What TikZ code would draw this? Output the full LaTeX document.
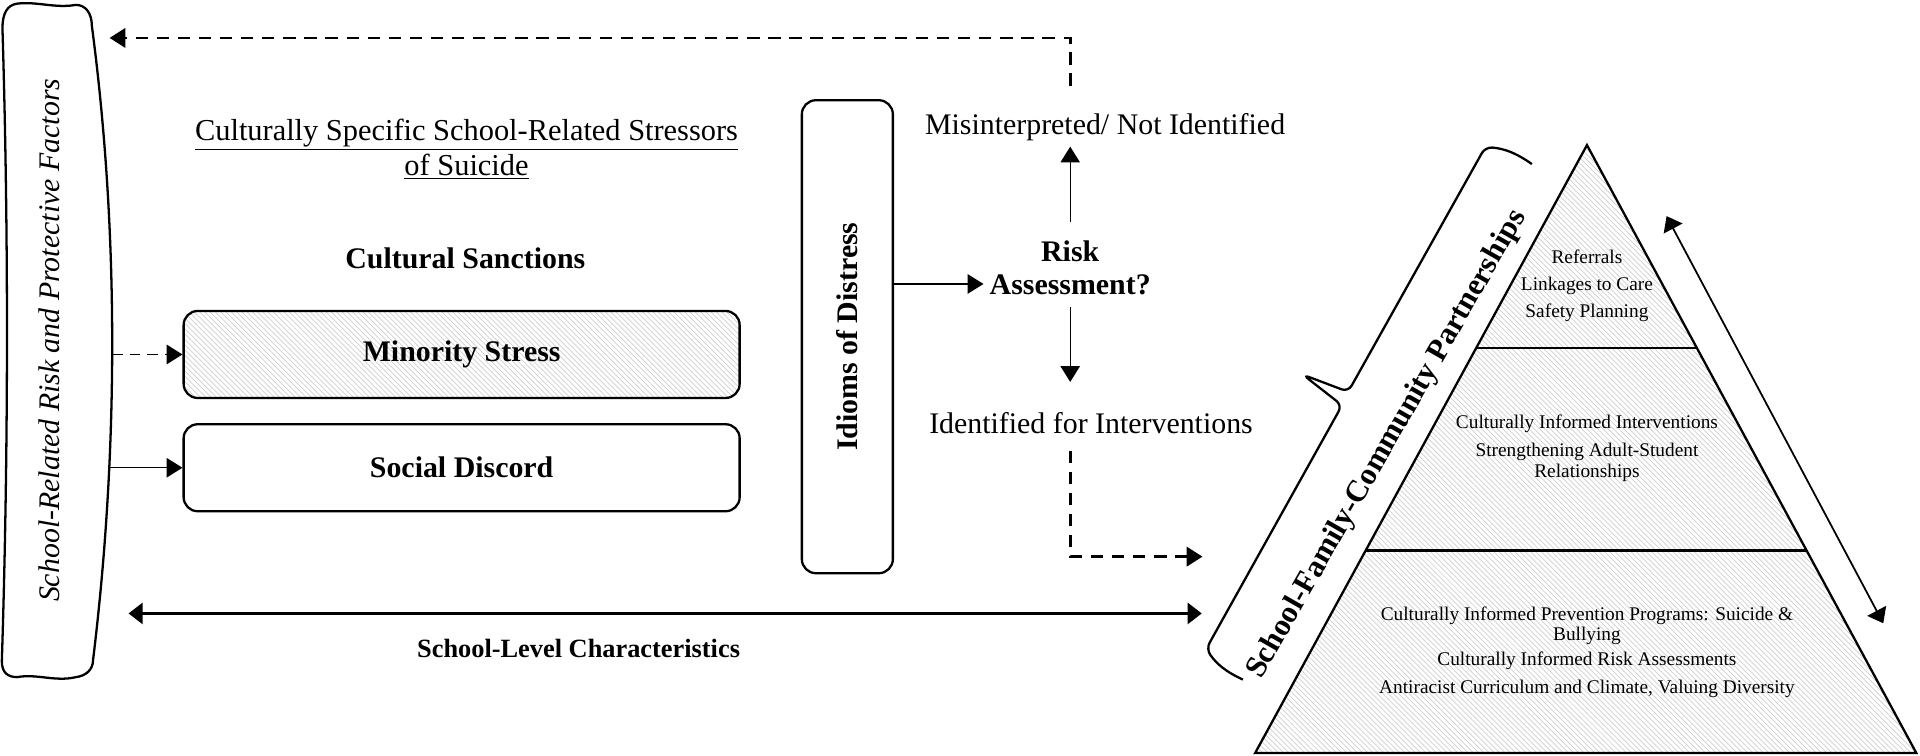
\documentclass[tikz,border=0pt]{standalone}
\usepackage{fontspec}
\setmainfont{Liberation Serif}
\usepackage{tikz}
\usetikzlibrary{positioning, calc, arrows.meta, patterns}
\tikzset{
    %Define style for boxes
    stressbox/.style={
           rectangle,
           rounded corners=8pt,
           draw=black, line width=1.3pt,
           minimum width=11.12cm,
           minimum height=1.74cm,
           font=\bfseries\fontsize{17}{20}\selectfont,
           text centered},
 %
    hatched/.style={
           pattern=north west lines,
           pattern color=gray!38},
 %
    plainlabel/.style={
           font=\fontsize{17}{20}\selectfont,
           align=center},
 %
    boldlabel/.style={
           font=\bfseries\fontsize{17}{19}\selectfont,
           align=center},
 %
    tiertext/.style={
           font=\fontsize{11}{11.5}\selectfont,
           align=center},
%
    % Define arrow style
    arrow/.style={
           -{Triangle[length=9pt,width=11pt]},
           line width=0.8pt},
    dasharrow/.style={
           arrow,
           line width=1.6pt,
           dash pattern=on 7pt off 5pt},
    dblarrow/.style={
           {Triangle[length=8pt,width=12pt]}-{Triangle[length=8pt,width=12pt]},
           line width=1.4pt}
}

\begin{document}
\begin{tikzpicture}[x=0.02449cm, y=0.02449cm]
  \useasboundingbox (0,0) rectangle (1568,617);
  % left banner
  \draw[line width=1.3pt] (2,594) .. controls (7,430) and (7,250) .. (1.5,77)
     .. controls (1.5,68) and (6,64) .. (14,64)
     .. controls (30,67) and (45,60) .. (62,64)
     .. controls (70,65) and (76,70) .. (76,78)
     .. controls (97,250) and (97,430) .. (75,596)
     .. controls (75,606) and (70,613) .. (62,613)
     .. controls (45,610) and (30,616) .. (14,614)
     .. controls (6,613) and (2,606) .. (2,594) -- cycle;
  \node[font=\itshape\fontsize{17}{20}\selectfont, rotate=90] (factors) at (40,339) {School-Related Risk and Protective Factors};
  \coordinate (factorsTop) at (89.5,586);
  \coordinate (factorsA) at (91.5,327.5);
  \coordinate (factorsB) at (89.5,235);
  \coordinate (factorsC) at (105,116);

  % stressors
  \node[plainlabel, font=\fontsize{17.3}{20.2}\selectfont] (heading) at (381,495)
     {\underline{Culturally Specific School-Related Stressors}\\\underline{of Suicide}};
  \node[boldlabel] (sanctions) at (380,406) {Cultural Sanctions};
  \node[stressbox, hatched] (minority) at (377,327.5) {Minority Stress};
  \node[stressbox] (discord) at (377,235) {Social Discord};
  \node[stressbox, minimum width=1.82cm, minimum height=9.46cm] (idioms) at (692,342) {\rotatebox{90}{Idioms of Distress}};

  % assessment
  \node[boldlabel] (risk) at (874,398) {Risk\\Assessment?};
  \node[plainlabel] (misread) at (902.5,513.5) {Misinterpreted/ Not Identified};
  \node[plainlabel] (identified) at (891,271.2) {Identified for Interventions};

  % pyramid
  \coordinate (apex) at (1296,498.5);
  \coordinate (baseL) at (1025,2);
  \coordinate (baseR) at (1565,2);
  \fill[hatched] (apex) -- (baseL) -- (baseR) -- cycle;
  \draw[line width=1.3pt] (apex) -- (baseL) -- (baseR) -- cycle;
  \draw[line width=1.3pt] ($(apex)!1/3!(baseL)$) -- ($(apex)!1/3!(baseR)$)
                          ($(apex)!2/3!(baseL)$) -- ($(apex)!2/3!(baseR)$);
  \node[tiertext] (tier1) at (1296,383.6) {Referrals\\[4pt]Linkages to Care\\[4pt]Safety Planning};
  \node[tiertext] (tier2) at (1296,251) {Culturally Informed Interventions\\[4.5pt]Strengthening Adult-Student\\Relationships};
  \node[tiertext] (tier3) at (1296,84.3) {Culturally Informed Prevention Programs: Suicide \&\\Bullying\\[3pt]Culturally Informed Risk Assessments\\[4.5pt]Antiracist Curriculum and Climate, Valuing Diversity};

  % brace
  \coordinate (braceE1) at (1015,62);
  \coordinate (braceC1) at (985,87);
  \coordinate (braceM1) at (1096,286);
  \coordinate (braceTip) at (1064,311);
  \coordinate (braceM2) at (1101,297);
  \coordinate (braceC2) at (1213,497);
  \coordinate (braceE2) at (1251,483);
  \draw[line width=1.3pt, rounded corners=4pt] (braceE1) to[bend left=15] (braceC1) -- (braceM1) -- (braceTip)
     -- (braceM2) -- (braceC2) to[bend left=15] (braceE2);
  \node[font=\bfseries\fontsize{17.5}{20}\selectfont, rotate=60.3] (partners) at (1133,254) {School-Family-Community Partnerships};
  \coordinate (pyrIn) at (982,162.4);
  \coordinate (pyrEnd) at (981.4,116);
  \coordinate (sideTop) at (1361,440.5);
  \coordinate (sideBot) at (1538,108);

  % connectors
  \draw[dasharrow, line width=1.1pt, dash pattern=on 6pt off 4pt] (factorsA) -- (minority.west);
  \draw[arrow] (factorsB) -- (discord.west);
  \draw[arrow] ([yshift=-9pt]risk.west -| idioms.east) -- ([yshift=-9pt]risk.west);
  \draw[arrow] ([yshift=7pt]risk.north) -- (risk.north |- misread.south);
  \draw[arrow] ([yshift=-3pt]risk.south) -- ([yshift=14pt]identified.north -| risk.south);
  \draw[dasharrow] ([yshift=12pt]misread.north -| risk.north) |- (factorsTop);
  \draw[dasharrow] ([yshift=-6pt]identified.south -| risk.south) |- (pyrIn);
  \draw[dblarrow] (factorsC) -- (pyrEnd);
  \draw[dblarrow, line width=1pt] (sideTop) -- (sideBot);
  \node[font=\bfseries\fontsize{15}{18}\selectfont] (schoollevel) at (472.5,87.5) {School-Level Characteristics};
\end{tikzpicture}
\end{document}
